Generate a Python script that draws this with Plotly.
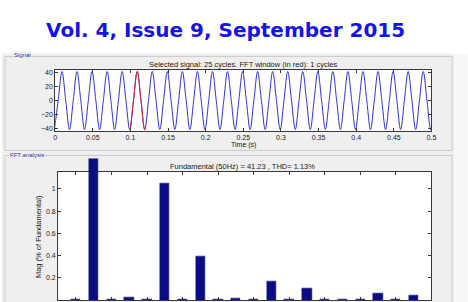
import plotly.graph_objects as go

W, H = 468, 302

# ---- Signal (read at quarter-cycle points: troughs, zero crossings, peaks), seconds / amplitude
SIG_T = [-0.001, 0.004, 0.009, 0.014, 0.019, 0.024, 0.029, 0.034, 0.039, 0.044,
         0.049, 0.054, 0.059, 0.064, 0.069, 0.074, 0.079, 0.084, 0.089, 0.094,
         0.099, 0.104, 0.109, 0.114, 0.119, 0.124, 0.129, 0.134, 0.139, 0.144,
         0.149, 0.154, 0.159, 0.164, 0.169, 0.174, 0.179, 0.184, 0.189, 0.194,
         0.199, 0.204, 0.209, 0.214, 0.219, 0.224, 0.229, 0.234, 0.239, 0.244,
         0.249, 0.254, 0.259, 0.264, 0.269, 0.274, 0.279, 0.284, 0.289, 0.294,
         0.299, 0.304, 0.309, 0.314, 0.319, 0.324, 0.329, 0.334, 0.339, 0.344,
         0.349, 0.354, 0.359, 0.364, 0.369, 0.374, 0.379, 0.384, 0.389, 0.394,
         0.399, 0.404, 0.409, 0.414, 0.419, 0.424, 0.429, 0.434, 0.439, 0.444,
         0.449, 0.454, 0.459, 0.464, 0.469, 0.474, 0.479, 0.484, 0.489, 0.494,
         0.499, 0.504]
SIG_V = [-41.2, 0, 41.2, 0, -41.2, 0, 41.2, 0, -41.2, 0,
         41.2, 0, -41.2, 0, 41.2, 0, -41.2, 0, 41.2, 0,
         -41.2, 0, 41.2, 0, -41.2, 0, 41.2, 0, -41.2, 0,
         41.2, 0, -41.2, 0, 41.2, 0, -41.2, 0, 41.2, 0,
         -41.2, 0, 41.2, 0, -41.2, 0, 41.2, 0, -41.2, 0,
         41.2, 0, -41.2, 0, 41.2, 0, -41.2, 0, 41.2, 0,
         -41.2, 0, 41.2, 0, -41.2, 0, 41.2, 0, -41.2, 0,
         41.2, 0, -41.2, 0, 41.2, 0, -41.2, 0, 41.2, 0,
         -41.2, 0, 41.2, 0, -41.2, 0, 41.2, 0, -41.2, 0,
         41.2, 0, -41.2, 0, 41.2, 0, -41.2, 0, 41.2, 0,
         -41.2, 0]
# FFT window (red), one cycle
RED_T = [0.100, 0.104, 0.109, 0.114, 0.119, 0.120]
RED_V = [-40.7, 0, 41.2, 0, -41.2, -40.7]

SIG_XTICKS = [0, 0.05, 0.1, 0.15, 0.2, 0.25, 0.3, 0.35, 0.4, 0.45, 0.5]
SIG_XLABELS = ["0", "0.05", "0.1", "0.15", "0.2", "0.25", "0.3", "0.35", "0.4", "0.45", "0.5"]
SIG_YTICKS = [-40, -20, 0, 20, 40]

# ---- FFT harmonics (% of fundamental)
HARMONICS = [0, 1, 2, 3, 4, 5, 6, 7, 8, 9, 10, 11, 12, 13, 14, 15, 16, 17, 18, 19]
MAG = [0.004, 100, 0.004, 0.027, 0.004, 1.048, 0.004, 0.39, 0.004, 0.011,
       0.004, 0.165, 0.004, 0.108, 0.004, 0.004, 0.004, 0.057, 0.004, 0.045]
FFT_XTICKS = [0, 2, 4, 6, 8, 10, 12, 14, 16, 18]
FFT_YTICKS = [0, 0.2, 0.4, 0.6, 0.8, 1]
FFT_YLABELS = ["0", "0.2", "0.4", "0.6", "0.8", "1"]

TITLE = "Vol. 4, Issue 9, September 2015"
HEADER = "(An ISO 3297: 2007 Certified Organization)"
SIG_TITLE = "Selected signal: 25 cycles. FFT window (in red): 1 cycles"
FFT_TITLE = "Fundamental (50Hz) = 41.23 , THD= 1.13%"


def px(p):
    return p / W


def py(p):
    return 1 - p / H


FONT = "Liberation Sans Narrow, Liberation Sans, Arial, sans-serif"
GREY = "#efefef"
AX = "#3a3a3a"

fig = go.Figure()
fig.add_trace(go.Scatter(x=SIG_T, y=SIG_V, mode="lines", line=dict(color="#2a2ad8", width=1, shape="spline"),
                         xaxis="x", yaxis="y", showlegend=False, hoverinfo="skip"))
fig.add_trace(go.Scatter(x=RED_T, y=RED_V, mode="lines", line=dict(color="#e52222", width=1, shape="spline"),
                         xaxis="x", yaxis="y", showlegend=False, hoverinfo="skip"))
fig.add_trace(go.Scatter(x=[], y=[], xaxis="x2", yaxis="y2", showlegend=False))
fig.add_trace(go.Bar(x=HARMONICS, y=MAG, width=0.52, marker=dict(color="#0b0b86", line=dict(color="#1c1c70", width=0.6)),
                     xaxis="x2", yaxis="y3", showlegend=False, hoverinfo="skip"))

tickfont = dict(family=FONT, size=7, color="#222")
common = dict(showline=True, linecolor=AX, linewidth=1, mirror="ticks", ticks="inside", ticklen=3,
              tickcolor=AX, showgrid=False, zeroline=False, tickfont=tickfont, fixedrange=True)

fft_top = 1.15
fft_y3_top = fft_top * (301 - 158) / (301 - 172)

fig.update_layout(
    width=W, height=H, margin=dict(l=0, r=0, t=0, b=0),
    paper_bgcolor="white", plot_bgcolor="rgba(0,0,0,0)",
    xaxis=dict(domain=[px(54), px(436)], range=[0, 0.5], anchor="y", tickvals=SIG_XTICKS,
               ticktext=SIG_XLABELS, **common),
    yaxis=dict(domain=[py(130), py(69)], range=[-42.8, 42.8], anchor="x", tickvals=SIG_YTICKS, **common),
    xaxis2=dict(domain=[px(57), px(436)], range=[-1, 20], anchor="y2", tickvals=FFT_XTICKS,
                showticklabels=False, **common),
    yaxis2=dict(domain=[py(301), py(172)], range=[0, fft_top], anchor="x2", tickvals=FFT_YTICKS,
                ticktext=FFT_YLABELS, **common),
    yaxis3=dict(domain=[py(301), py(158)], range=[0, fft_y3_top], anchor="x2", visible=False, fixedrange=True),
    bargap=0,
)

shapes = [
    dict(type="rect", xref="paper", yref="paper", x0=0, x1=px(459), y0=-0.1, y1=py(52),
         fillcolor=GREY, line=dict(width=0), layer="below"),
    dict(type="rect", xref="paper", yref="paper", x0=px(459), x1=1.01, y0=-0.1, y1=py(52),
         fillcolor="#f7f7f7", line=dict(width=0), layer="below"),
    dict(type="rect", xref="paper", yref="paper", x0=px(3), x1=px(457), y0=py(150), y1=py(55),
         fillcolor="rgba(0,0,0,0)", line=dict(color="#cbcbcb", width=1), layer="below"),
    dict(type="rect", xref="paper", yref="paper", x0=px(3), x1=px(457), y0=py(330), y1=py(155),
         fillcolor="rgba(0,0,0,0)", line=dict(color="#cbcbcb", width=1), layer="below"),
    dict(type="rect", xref="paper", yref="paper", x0=px(54), x1=px(436), y0=py(130), y1=py(69),
         fillcolor="white", line=dict(width=0), layer="below"),
    dict(type="rect", xref="paper", yref="paper", x0=px(57), x1=px(436), y0=py(301), y1=py(172),
         fillcolor="white", line=dict(width=0), layer="below"),
]
fig.update_layout(shapes=shapes)

txt = dict(family=FONT, size=7.5, color="#1a1a1a")
ann = [
    dict(text=HEADER, x=px(228), y=1 + 15.5 / H, xref="paper", yref="paper", showarrow=False,
         xanchor="center", yanchor="middle",
         font=dict(family="DejaVu Sans", size=16, color="#7a2a8e", weight="bold")),
    dict(text=TITLE, x=px(227), y=py(28), xref="paper", yref="paper", showarrow=False,
         xanchor="center", yanchor="middle",
         font=dict(family="DejaVu Sans", size=20, color="#1414e6", weight="bold")),
    dict(text=SIG_TITLE, x=px(245), y=py(63), xref="paper", yref="paper", showarrow=False,
         xanchor="center", yanchor="middle", font=txt),
    dict(text="Time (s)", x=px(245), y=py(144), xref="paper", yref="paper", showarrow=False,
         xanchor="center", yanchor="middle", font=dict(family=FONT, size=7, color="#1a1a1a")),
    dict(text=FFT_TITLE, x=px(244), y=py(166), xref="paper", yref="paper", showarrow=False,
         xanchor="center", yanchor="middle", font=txt),
    dict(text="Mag (% of Fundamental)", x=px(37), y=py(237), xref="paper", yref="paper", showarrow=False,
         xanchor="center", yanchor="middle", textangle=-90, font=txt),
    dict(text="Signal", x=px(11), y=py(54), xref="paper", yref="paper", showarrow=False,
         xanchor="left", yanchor="middle", bgcolor=GREY, borderpad=0,
         font=dict(family=FONT, size=6, color="#26309a")),
    dict(text="FFT analysis", x=px(7), y=py(154.5), xref="paper", yref="paper", showarrow=False,
         xanchor="left", yanchor="middle", bgcolor=GREY, borderpad=0,
         font=dict(family=FONT, size=6, color="#26309a")),
]
fig.update_layout(annotations=ann)

fig.write_html("out.html")
